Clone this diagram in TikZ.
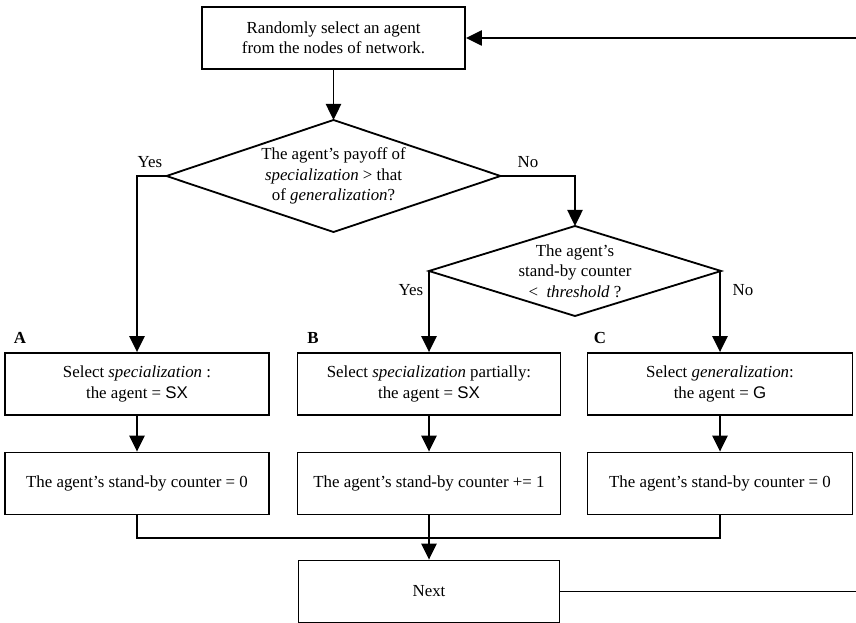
\documentclass[tikz,border=0pt]{standalone}
\usepackage{fontspec}
\setmainfont{Liberation Serif}
\newfontfamily\sansf{Liberation Sans}
\usetikzlibrary{shapes.geometric,arrows.meta}
\tikzset{
  box/.style={draw, line width=1.3pt, minimum height=1.55cm, align=center, inner sep=0pt},
  decision/.style={draw, diamond, line width=1.3pt, align=center, inner sep=0pt, outer sep=0pt},
  arr/.style={-{Triangle[length=0.4cm,width=0.38cm]}},
  line/.style={line width=1.3pt}
}
\begin{document}
\begin{tikzpicture}[x=0.025cm, y=-0.025cm, font=\fontsize{12}{14.5}\selectfont]
\useasboundingbox (0,0) rectangle (856,623);
% boxes
\node[box, minimum width=6.575cm] (pick) at (333.5,38) {Randomly select an agent\\from the nodes of network.};
\node[decision, aspect=2.98, minimum width=8.35cm, minimum height=2.8cm] (payoff) at (333.5,176) {The agent's payoff of\\\textit{specialization} > that\\of \textit{generalization}?};
\node[decision, aspect=3.24, minimum width=7.3cm, minimum height=2.25cm] (wait) at (575,271) {The agent's\\stand-by counter\\<~~\textit{threshold} ?};
\node[box, minimum width=6.6cm] (selA) at (137,384) {Select \textit{specialization} :\\the agent = {\sansf SX}};
\node[box, minimum width=6.575cm] (selB) at (429,384) {Select \textit{specialization} partially:\\the agent = {\sansf SX}};
\node[box, minimum width=6.625cm] (selC) at (720,384) {Select \textit{generalization}:\\the agent = {\sansf G}};
\node[box, minimum width=6.6cm] (cntA) at (137,483.5) {The agent's stand-by counter = 0};
\node[box, minimum width=6.575cm] (cntB) at (429,483.5) {The agent's stand-by counter += 1};
\node[box, minimum width=6.625cm] (cntC) at (720,483.5) {The agent's stand-by counter = 0};
\node[box, minimum width=6.525cm] (next) at (429,591.5) {Next};
% labels
\node (yes1) at (150,162) {Yes};
\node (no1) at (528,162) {No};
\node (yes2) at (411,290) {Yes};
\node (no2) at (743,290) {No};
\node (labA) at (20,338) {\textbf{A}};
\node (labB) at (313,338) {\textbf{B}};
\node (labC) at (600,338) {\textbf{C}};
% connectors
\coordinate (merge) at (429,538);
\coordinate (back) at (880,591.5);
\draw[line, arr] (pick) -- (payoff);
\draw[line, arr] (payoff.west) -| (selA.north);
\draw[line, arr] (payoff.east) -| (wait.north);
\draw[line, arr] (wait.west) -| (selB.north);
\draw[line, arr] (wait.east) -| (selC.north);
\draw[line, arr] (selA) -- (cntA);
\draw[line, arr] (selB) -- (cntB);
\draw[line, arr] (selC) -- (cntC);
\draw[line] (cntA.south) |- (merge) -| (cntC.south);
\draw[line, arr] (cntB.south) -- (next.north);
\draw[line, arr] (next.east) -- (back) |- (pick.east);
\end{tikzpicture}
\end{document}
